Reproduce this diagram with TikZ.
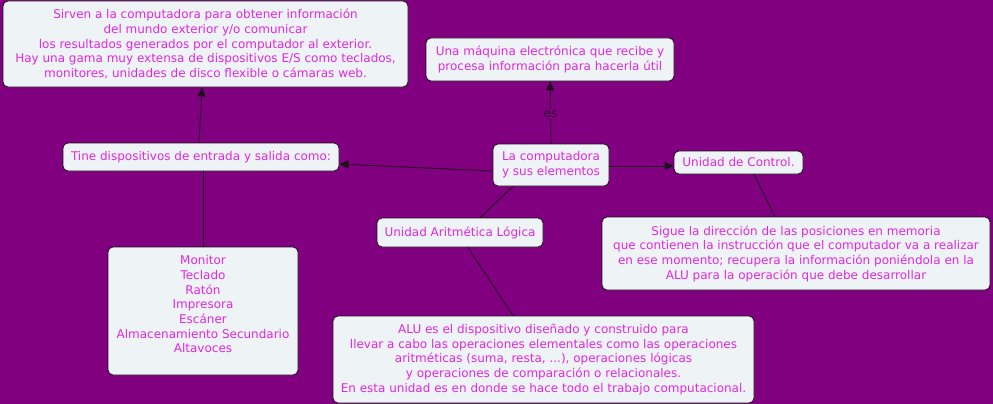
\documentclass[tikz,border=0pt]{standalone}
\usepackage{fontspec}
\setmainfont{DejaVu Sans}
\usetikzlibrary{arrows.meta}
\definecolor{bgpurple}{RGB}{128,0,128}
\definecolor{boxfill}{RGB}{238,243,245}
\definecolor{txtmag}{RGB}{225,40,225}
\definecolor{edgec}{RGB}{30,15,30}
\definecolor{lblc}{RGB}{45,10,45}
\begin{document}
\begin{tikzpicture}[x=1pt,y=-1pt,
  box/.style={draw=edgec, line width=0.8pt, fill=boxfill, rounded corners=5pt,
    text=txtmag, align=center, inner sep=0pt,
    font=\fontsize{12}{14.7}\selectfont},
  link/.style={draw=edgec, line width=0.8pt},
  arr/.style={link, -{Triangle[length=9pt,width=8pt]}},
  lbl/.style={fill=bgpurple, text=lblc, inner sep=1.5pt, font=\fontsize{12}{14}\selectfont}]
\fill[bgpurple] (0,0) rectangle (993,404);
\useasboundingbox (0,0) rectangle (993,404);

\node[box, minimum width=405pt, minimum height=86pt] (sirven) at (205.5,44)
  {Sirven a la computadora para obtener información\\
   del mundo exterior y/o comunicar\\
   los resultados generados por el computador al exterior.\\
   Hay una gama muy extensa de dispositivos E/S como teclados,\\
   monitores, unidades de disco flexible o cámaras web.};
\node[box, minimum width=248pt, minimum height=43pt] (maq) at (550,59.5)
  {Una máquina electrónica que recibe y\\ procesa información para hacerla útil};
\node[box, minimum width=116pt, minimum height=42pt] (comp) at (551,165)
  {La computadora\\ y sus elementos};
\node[box, minimum width=129pt, minimum height=23pt] (udc) at (738.5,162.5)
  {Unidad de Control.};
\node[box, minimum width=388pt, minimum height=73pt] (sigue) at (796,253.5)
  {Sigue la dirección de las posiciones en memoria\\
   que contienen la instrucción que el computador va a realizar\\
   en ese momento; recupera la información poniéndola en la\\
   ALU para la operación que debe desarrollar};
\node[box, minimum width=276pt, minimum height=28pt] (tine) at (201,157)
  {Tine dispositivos de entrada y salida como:};
\node[box, minimum width=190pt, minimum height=128pt] (mon) at (203,311)
  {Monitor\\ Teclado\\ Ratón\\ Impresora\\ Escáner\\ Almacenamiento Secundario\\ Altavoces\\[-1pt]\mbox{}};
\node[box, minimum width=166pt, minimum height=29pt] (ual) at (460,232.5)
  {Unidad Aritmética Lógica};
\node[box, minimum width=421pt, minimum height=87pt] (alu) at (543.5,359.5)
  {ALU es el dispositivo diseñado y construido para\\
   llevar a cabo las operaciones elementales como las operaciones\\
   aritméticas (suma, resta, ...), operaciones lógicas\\
   y operaciones de comparación o relacionales.\\
   En esta unidad es en donde se hace todo el trabajo computacional.};

\draw[arr] (comp.north) -- node[lbl, pos=0.48] {es} (maq.south);
\draw[arr] ([yshift=-6pt]comp.west) -- ([yshift=-7pt]tine.east);
\draw[arr] ([xshift=-2pt]tine.north) -- ([xshift=-3.5pt]sirven.south);
\draw[link] ([xshift=2pt]tine.south) -- (mon.north);
\draw[arr] ([yshift=-1pt]comp.east) -- ([yshift=-3.5pt]udc.west);
\draw[link] ([xshift=15.5pt]udc.south) -- ([xshift=-21pt]sigue.north);
\draw[link] ([xshift=-38pt]comp.south) -- ([xshift=20pt]ual.north);
\draw[link] ([xshift=8pt]ual.south) -- ([xshift=-30.5pt]alu.north);
\end{tikzpicture}
\end{document}
